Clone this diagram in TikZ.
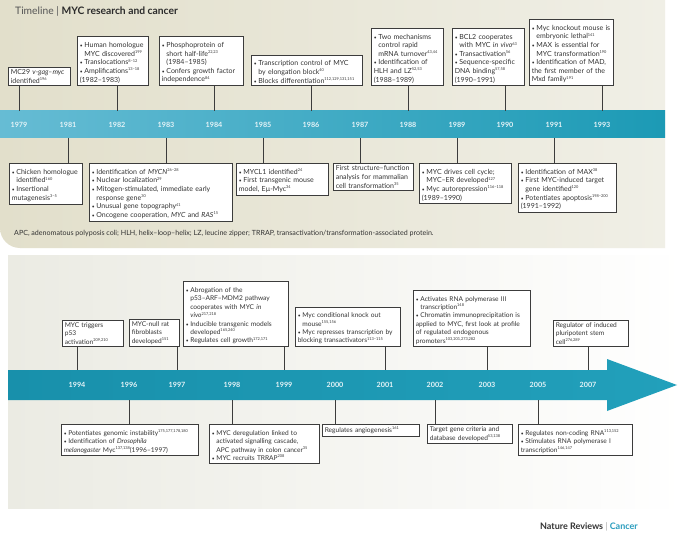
\documentclass[tikz,border=0pt]{standalone}
\usepackage{fontspec}
\setmainfont{Lato}
\usetikzlibrary{calc}
\definecolor{panelL}{HTML}{E2DFCB}
\definecolor{panelR}{HTML}{F0EFE6}
\definecolor{lowL}{HTML}{EBEBE3}
\definecolor{barL}{HTML}{66BCD4}
\definecolor{barR}{HTML}{1C9AB5}
\definecolor{barDL}{HTML}{1890AB}
\definecolor{barDR}{HTML}{22A0BB}
\definecolor{txt}{HTML}{333333}
\definecolor{lnk}{HTML}{3C3C3C}
\definecolor{yrc}{HTML}{E4F3F7}
\definecolor{ncteal}{HTML}{2A9DBE}
\newcommand\nbk{\rightskip=0pt plus 2em minus 30pt\relax\linepenalty=1000\relax}
\newcommand\bxfont{\fontsize{7}{8.6}\selectfont}
\newcommand\bxfontb{\fontsize{6.6}{8.4}\selectfont}
\newcommand\itm{\par\nbk\noindent\hangindent=4.6pt\hangafter=1\hbox to 4.6pt{{\fontsize{5}{5}\selectfont\textbullet}\hss}}
\newcommand\rf[1]{\raisebox{2.7pt}{\fontsize{3.9}{4}\selectfont #1}}
\begin{document}
\begin{tikzpicture}[x=1pt,y=-1pt,
  box/.style={draw=lnk, line width=0.6pt, fill=white, align=left, inner xsep=2.5pt, inner ysep=2.5pt, font=\bxfont, text=txt, execute at begin node=\nbk},
  boxb/.style={box, font=\bxfontb},
  yr/.style={font=\fontsize{7.2}{8}\selectfont\bfseries, text=yrc, inner sep=0pt},
  link/.style={draw=lnk, line width=0.6pt}]
\useasboundingbox (0,0) rectangle (685,540);
\fill[white] (0,0) rectangle (685,540);
% panels
\shade[left color=panelL, right color=panelR] (0,0) -- (665,0) -- (665,248) [rounded corners=20pt]-- (0,248) [sharp corners]-- cycle;
\shade[left color=lowL, right color=white] (8,255) rectangle (685,508);
% title
\node[anchor=west, inner sep=0pt, font=\fontsize{10.3}{12}\selectfont] (title) at (15,11) {\textcolor[HTML]{555555}{Timeline |} \textcolor[HTML]{2B2B2B}{\bfseries MYC research and cancer}};
% top bar
\node[anchor=north west, minimum width=665pt, minimum height=27pt, inner sep=0pt, outer sep=0pt, left color=barL, right color=barR] (bar1) at (0,111) {};
\foreach \yy/\xx in {1979/19,1981/68,1982/117,1983/166,1984/214,1985/263,1986/311,1987/360,1988/408,1989/457,1990/505,1991/554,1993/602}
  \node[yr] (y\yy) at (\xx,125) {\yy};
% bottom bar
\shade[left color=barDL, right color=barDR] (8,370) -- (607,370) -- (607,359) -- (677,385) -- (607,411) -- (607,400) -- (8,400) -- cycle;
\coordinate (b2t) at (0,370);
\coordinate (b2b) at (0,400);
\foreach \yy/\xx in {1994/77,1996/129,1997/177,1998/232,1999/284,2000/335,2001/385,2002/435,2003/487,2005/538,2007/588}
  \node[yr] (y\yy) at (\xx,385) {\yy};
% top panel boxes above
\node[box, text width=57pt, anchor=south west] (b1979) at (8,86) {MC29 \textit{v-gag–myc}\newline identified\rf{196}};
\node[box, text width=66pt, anchor=south west] (b1982) at (77,86) {\itm Human homologue\newline MYC discovered\rf{199}\itm Translocations\rf{8–12}\itm Amplifications\rf{13–18}\newline (1982–1983)};
\node[box, text width=79pt, anchor=south west] (b1984) at (159,86) {\itm Phosphoprotein of\newline short half-life\rf{22,23}\newline (1984–1985)\itm Confers growth factor\newline independence\rf{84}};
\node[box, text width=106pt, anchor=south west] (b1986) at (251,86) {\itm Transcription control of MYC\newline by elongation block\rf{40}\itm Blocks differentiation\rf{112,129,131,151}};
\node[box, text width=67pt, anchor=south west] (b1988) at (371,86) {\itm Two mechanisms\newline control rapid\newline mRNA turnover\rf{43,44}\itm Identification of\newline HLH and LZ\rf{52,53}\newline (1988–1989)};
\node[box, text width=67pt, anchor=south west] (b1990) at (452,86) {\itm BCL2 cooperates\newline with MYC \textit{in vivo}\rf{63}\itm Transactivation\rf{56}\itm Sequence-specific\newline DNA binding\rf{57,58}\newline (1990–1991)};
\node[box, text width=79pt, anchor=south west] (b1993) at (529,86) {\itm Myc knockout mouse is\newline embryonic lethal\rf{141}\itm MAX is essential for\newline MYC transformation\rf{190}\itm Identification of MAD,\newline the first member of the\newline Mxd family\rf{191}};
% top panel boxes below
\node[box, text width=68pt, anchor=north west] (b1981) at (9,163) {\itm Chicken homologue\newline identified\rf{160}\itm Insertional\newline mutagenesis\rf{3–5}};
\node[box, text width=138pt, anchor=north west] (b1983) at (89,163) {\itm Identification of \textit{MYCN}\rf{26–28}\itm Nuclear localization\rf{29}\itm Mitogen-stimulated, immediate early\newline response gene\rf{30}\itm Unusual gene topography\rf{41}\itm Oncogene cooperation, \textit{MYC} and \textit{RAS}\rf{15}};
\node[box, text width=87pt, anchor=north west] (b1985) at (236,163) {\itm MYCL1 identified\rf{24}\itm First transgenic mouse\newline model, Eµ-Myc\rf{34}};
\node[box, text width=75pt, anchor=north west] (b1987) at (333,163) {First structure–function\newline analysis for mammalian\newline cell transformation\rf{35}};
\node[box, text width=87pt, anchor=north west] (b1989) at (419,163) {\itm MYC drives cell cycle;\newline MYC–ER developed\rf{127}\itm Myc autorepression\rf{116–118}\newline (1989–1990)};
\node[box, text width=93pt, anchor=north west] (b1991) at (518,163) {\itm Identification of MAX\rf{38}\itm First MYC-induced target\newline gene identified\rf{120}\itm Potentiates apoptosis\rf{198–200}\newline (1991–1992)};
% legend
\node[anchor=west, inner sep=0pt, font=\fontsize{7.1}{8}\selectfont, text=txt] (legend) at (14,233) {APC, adenomatous polyposis coli; HLH, helix–loop–helix; LZ, leucine zipper; TRRAP, transactivation/transformation-associated protein.};
% bottom panel boxes above
\node[boxb, text width=56pt, anchor=south west] (b1994) at (62,347) {MYC triggers\newline p53\newline activation\rf{209,210}};
\node[boxb, text width=45pt, anchor=south west] (b1997) at (129,347) {MYC-null rat\newline fibroblasts\newline developed\rf{151}};
\node[boxb, text width=100pt, anchor=south west] (b1999) at (183,347) {\itm Abrogation of the\newline p53–ARF–MDM2 pathway\newline cooperates with MYC \textit{in}\newline \textit{vivo}\rf{217,218}\itm Inducible transgenic models\newline developed\rf{165,240}\itm Regulates cell growth\rf{172,171}};
\node[boxb, text width=100pt, anchor=south west] (b2001) at (295,347) {\itm Myc conditional knock out\newline mouse\rf{155,156}\itm Myc represses transcription by\newline blocking transactivators\rf{113–115}};
\node[boxb, text width=112pt, anchor=south west] (b2003) at (413,347) {\itm Activates RNA polymerase III\newline transcription\rf{148}\itm Chromatin immunoprecipitation is\newline applied to MYC, first look at profile\newline of regulated endogenous\newline promoters\rf{103,201,273,282}};
\node[boxb, text width=70pt, anchor=south west] (b2007) at (553,347) {Regulator of induced\newline pluripotent stem\newline cell\rf{276,289}};
% bottom panel boxes below
\node[boxb, text width=132pt, anchor=north west] (b1996) at (61,424) {\itm Potentiates genomic instability\rf{175,177,178,180}\itm Identification of \textit{Drosophila}\newline \textit{melanogaster} Myc\rf{137,138}(1996–1997)};
\node[boxb, text width=105pt, anchor=north west] (b1998) at (209,424) {\itm MYC deregulation linked to\newline activated signalling cascade,\newline APC pathway in colon cancer\rf{35}\itm MYC recruits TRRAP\rf{208}};
\node[boxb, text width=92pt, anchor=north west] (b2000) at (322,424) {Regulates angiogenesis\rf{161}};
\node[boxb, text width=80pt, anchor=north west] (b2002) at (427,424) {Target gene criteria and\newline database developed\rf{53,138}};
\node[boxb, text width=109pt, anchor=north west] (b2005) at (518,424) {\itm Regulates non-coding RNA\rf{113,152}\itm Stimulates RNA polymerase I\newline transcription\rf{146,147}};
% connectors
\foreach \k in {1979,1982,1984,1986,1988,1990,1993}
  \draw[link] (b\k.south -| y\k) -- (bar1.north -| y\k);
\foreach \k in {1981,1983,1985,1987,1989,1991}
  \draw[link] (bar1.south -| y\k) -- (b\k.north -| y\k);
\foreach \k in {1994,1997,1999,2001,2003,2007}
  \draw[link] (b\k.south -| y\k) -- (y\k |- b2t);
\foreach \k in {1996,1998,2000,2002,2005}
  \draw[link] (y\k |- b2b) -- (b\k.north -| y\k);
% footer
\node[anchor=east, inner sep=0pt, font=\fontsize{9}{11}\selectfont\bfseries] (footer) at (638,527) {\textcolor[HTML]{333333}{Nature Reviews} \textcolor[HTML]{AAAAAA}{\mdseries|} \textcolor{ncteal}{Cancer}};
\end{tikzpicture}
\end{document}
